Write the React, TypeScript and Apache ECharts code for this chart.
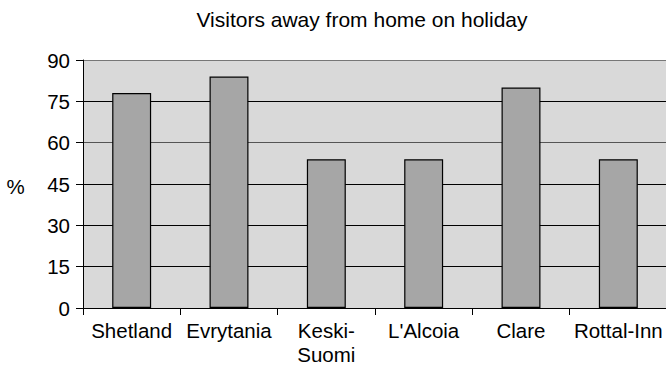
import React, { useEffect, useRef } from "react";
import * as echarts from "echarts";

// Share of visitors who were away from home on holiday, by region (%)
const regions = ["Shetland", "Evrytania", "Keski-Suomi", "L'Alcoia", "Clare", "Rottal-Inn"];
const holidayShare = [78, 84, 54, 54, 80, 54];
const yTicks = { min: 0, max: 90, interval: 15 };

const FONT = "'Liberation Sans', Arial, Helvetica, sans-serif";

export default function App() {
  const ref = useRef<HTMLDivElement>(null);

  useEffect(() => {
    if (!ref.current) return;
    const chart = echarts.init(ref.current, undefined, { renderer: "svg" });
    chart.setOption({
      animation: false,
      backgroundColor: "#ffffff",
      textStyle: { fontFamily: FONT },
      title: {
        text: "Visitors away from home on holiday",
        left: 362,
        top: 9,
        padding: 0,
        textAlign: "center",
        textStyle: { fontFamily: FONT, fontSize: 21, fontWeight: "normal", color: "#000" },
      },
      graphic: [
        {
          type: "text",
          x: 15.5,
          y: 186.5,
          style: {
            text: "%",
            fontFamily: FONT,
            fontSize: 20.5,
            fill: "#000",
            align: "center",
            verticalAlign: "middle",
          },
        },
      ],
      grid: {
        left: 83,
        top: 60,
        right: -1,
        bottom: 58,
        show: true,
        backgroundColor: "#d9d9d9",
        borderWidth: 0,
        containLabel: false,
        outerBoundsMode: "none",
      },
      xAxis: {
        type: "category",
        data: regions,
        axisLine: { show: true, lineStyle: { color: "#000", width: 1 } },
        axisTick: { show: true, length: 7, alignWithLabel: false, lineStyle: { color: "#000" } },
        axisLabel: {
          color: "#000",
          fontFamily: FONT,
          fontSize: 20.5,
          lineHeight: 23.5,
          margin: 11,
          interval: 0,
          formatter: (v: string) => v.replace("Keski-", "Keski-\n"),
        },
        splitLine: { show: false },
      },
      yAxis: {
        type: "value",
        min: yTicks.min,
        max: yTicks.max,
        interval: yTicks.interval,
        axisLine: { show: true, lineStyle: { color: "#000", width: 1 } },
        axisTick: { show: true, length: 7, lineStyle: { color: "#000" } },
        axisLabel: { color: "#000", fontFamily: FONT, fontSize: 20.5, margin: 13 },
        splitLine: {
          show: true,
          lineStyle: {
            color: ["#000", "#000", "#000", "#000", "#555", "#000", "#777"],
            width: 1,
          },
        },
      },
      series: [
        {
          type: "bar",
          data: holidayShare,
          barWidth: "40%",
          itemStyle: { color: "#a6a6a6", borderColor: "#000", borderWidth: 1.2 },
        },
      ],
    });
    return () => chart.dispose();
  }, []);

  return (
    <div
      ref={ref}
      style={{ position: "fixed", left: 0, top: 0, width: 666, height: 366 }}
    />
  );
}
